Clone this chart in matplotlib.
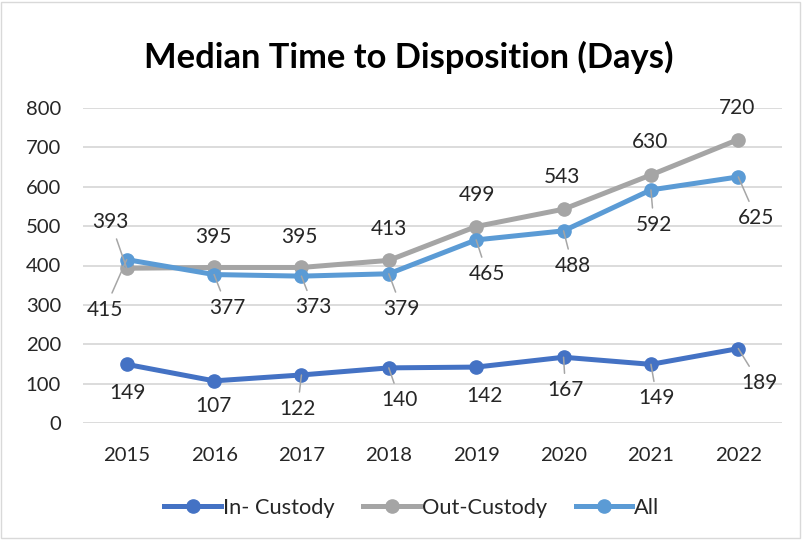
import matplotlib
matplotlib.use("Agg")
import matplotlib.pyplot as plt
from matplotlib.patches import Rectangle

years = ["2015", "2016", "2017", "2018", "2019", "2020", "2021", "2022"]
in_custody = [149, 107, 122, 140, 142, 167, 149, 189]
out_custody = [393, 395, 395, 413, 499, 543, 630, 720]
all_cases = [415, 377, 373, 379, 465, 488, 592, 625]
series_names = ["In- Custody", "Out-Custody", "All"]

# label offsets in pixels (right, down) and leader-line flags
off_in = [(1, 29), (-1, 25), (-4, 34), (11, 32), (8, 29), (2, 33), (6, 34), (21, 34)]
lead_in = [False, False, True, True, False, True, True, True]
off_out = [(-16, -46), (-1, -30), (-2, -30), (0, -31), (1, -32), (-2, -32), (-1, -33), (-1, -31)]
lead_out = [True, False, False, False, False, False, False, False]
off_all = [(-22, 50), (13, 33), (12, 31), (13, 35), (11, 34), (9, 35), (3, 35), (18, 41)]
lead_all = [True, True, True, True, True, True, True, True]

plt.rcParams['font.family'] = ['Lato', 'DejaVu Sans']

W, H = 804, 541
fig = plt.figure(figsize=(W / 100, H / 100), dpi=100)
ax = fig.add_axes([83 / W, 1 - 423 / H, (782 - 83) / W, 315 / H])

x = list(range(len(years)))
c_in, c_out, c_all = "#4472C4", "#A5A5A5", "#5B9BD5"
lw, ms = 3.6, 9.5
txt = "#262626"

ax.plot(x, in_custody, color=c_in, lw=lw, marker="o", ms=ms, label=series_names[0], zorder=3)
ax.plot(x, out_custody, color=c_out, lw=lw, marker="o", ms=ms, label=series_names[1], zorder=3)
ax.plot(x, all_cases, color=c_all, lw=lw, marker="o", ms=ms, label=series_names[2], zorder=4)

def labels(vals, offs, leads):
    for i, v in enumerate(vals):
        dx, dy = offs[i]
        kw = {}
        if leads[i]:
            kw["arrowprops"] = dict(arrowstyle="-", color="#A6A6A6", lw=1.1, shrinkA=3, shrinkB=0)
        ax.annotate(str(v), xy=(i, v), xytext=(dx, -dy), textcoords="offset pixels",
                    ha="center", va="center", fontsize=15, color=txt, zorder=5, **kw)

labels(in_custody, off_in, lead_in)
labels(out_custody, off_out, lead_out)
labels(all_cases, off_all, lead_all)

ax.set_xlim(-0.5, len(years) - 0.5)
ax.set_ylim(0, 800)
ax.set_yticks(range(0, 801, 100))
ax.set_xticks(x)
ax.set_xticklabels(years)
ax.tick_params(axis="both", length=0, labelsize=14.6, labelcolor=txt)
ax.tick_params(axis="x", pad=17)
ax.tick_params(axis="y", pad=15.8)
ax.grid(axis="y", color="#D9D9D9", lw=1.3)
ax.set_axisbelow(True)
for s in ax.spines.values():
    s.set_visible(False)

fig.text(408.5 / W, 1 - 57 / H, "Median Time to Disposition (Days)", ha="center", va="center",
         fontsize=24.8, fontweight="bold", color="black")

fig.legend(loc="center", bbox_to_anchor=(412 / W, 1 - 508 / H), ncol=3, frameon=False,
           fontsize=15.7, handlelength=2.6, columnspacing=1.3, handletextpad=0.1,
           labelcolor=txt)

fig.patches.append(Rectangle((1.5 / W, 3.5 / H), 799 / W, (H - 5) / H, transform=fig.transFigure,
                             fill=False, edgecolor="#D9D9D9", lw=1))

fig.savefig("out.png", dpi=100)
